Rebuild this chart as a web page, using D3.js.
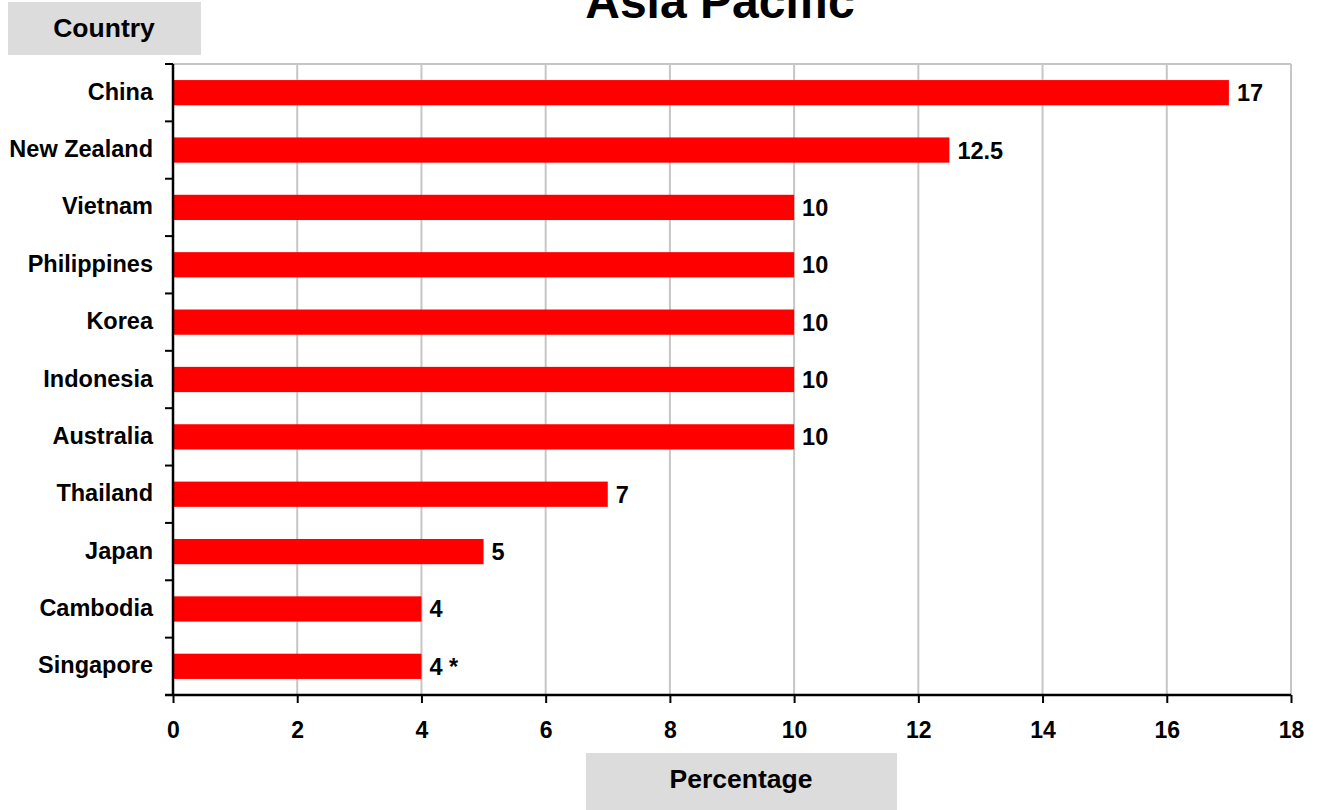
<!DOCTYPE html>
<html>
<head>
<meta charset="utf-8">
<script src="https://cdn.jsdelivr.net/npm/d3@7"></script>
<style>
  html, body { margin: 0; padding: 0; background: #fff; }
  svg { display: block; font-family: "Liberation Sans", Arial, sans-serif; }
</style>
</head>
<body>
<svg id="chart" width="1318" height="810"></svg>
<script>
// Country shares, top to bottom
const countries = ["China", "New Zealand", "Vietnam", "Philippines", "Korea", "Indonesia",
                   "Australia", "Thailand", "Japan", "Cambodia", "Singapore"];
const percentages = [17, 12.5, 10, 10, 10, 10, 10, 7, 5, 4, 4];
const valueLabels = ["17", "12.5", "10", "10", "10", "10", "10", "7", "5", "4", "4 *"];
const xTicks = [0, 2, 4, 6, 8, 10, 12, 14, 16, 18];

const title = "Asia Pacific";
const yTitle = "Country";
const xTitle = "Percentage";

const svg = d3.select("#chart");
const plot = { left: 173, right: 1291, top: 64, bottom: 695 };

const x = d3.scaleLinear().domain([0, 18]).range([plot.left, plot.right]);
const y = d3.scaleBand().domain(countries).range([plot.top, plot.bottom]).paddingInner(0.56).paddingOuter(0.28);
const yEdges = d3.scaleBand().domain(countries).range([plot.top, plot.bottom]);

// vertical grid lines and top border
svg.append("g").selectAll("line").data(xTicks.filter(d => d > 0)).join("line")
  .attr("x1", d => x(d)).attr("x2", d => x(d))
  .attr("y1", plot.top).attr("y2", plot.bottom)
  .attr("stroke", "#c6c6c6").attr("stroke-width", 2);
svg.append("line")
  .attr("x1", plot.left).attr("x2", plot.right)
  .attr("y1", plot.top).attr("y2", plot.top)
  .attr("stroke", "#c6c6c6").attr("stroke-width", 2);

// bars
svg.append("g").selectAll("rect").data(countries).join("rect")
  .attr("x", x(0))
  .attr("y", d => y(d))
  .attr("width", (d, i) => x(percentages[i]) - x(0))
  .attr("height", y.bandwidth())
  .attr("fill", "#ff0000");

// value labels
svg.append("g").selectAll("text").data(countries).join("text")
  .attr("x", (d, i) => x(percentages[i]) + 8)
  .attr("y", d => y(d) + y.bandwidth() / 2)
  .attr("dy", "0.36em")
  .attr("font-size", 23.5).attr("font-weight", "bold").attr("fill", "#000")
  .text((d, i) => valueLabels[i]);

// x axis
const xAxis = svg.append("g")
  .attr("transform", `translate(0,${plot.bottom})`)
  .call(d3.axisBottom(x).tickValues(xTicks).tickSize(8).tickPadding(19));
xAxis.select(".domain").attr("stroke", "#000").attr("stroke-width", 2.5)
  .attr("d", `M${plot.left - 8},0H${plot.right}`);
xAxis.selectAll(".tick line").attr("stroke", "#000").attr("stroke-width", 2);
xAxis.selectAll(".tick text").attr("font-size", 23).attr("font-weight", "bold")
  .attr("fill", "#000").attr("font-family", "Liberation Sans, Arial, sans-serif");

// y axis: line with ticks at category boundaries
const boundaries = countries.map(d => yEdges(d)).concat([plot.bottom]);
svg.append("line")
  .attr("x1", plot.left).attr("x2", plot.left)
  .attr("y1", plot.top).attr("y2", plot.bottom)
  .attr("stroke", "#000").attr("stroke-width", 2.5);
svg.append("g").selectAll("line").data(boundaries).join("line")
  .attr("x1", plot.left - 8).attr("x2", plot.left)
  .attr("y1", d => d).attr("y2", d => d)
  .attr("stroke", "#000").attr("stroke-width", 2);

// category labels
svg.append("g").selectAll("text").data(countries).join("text")
  .attr("x", 153)
  .attr("y", d => yEdges(d) + yEdges.bandwidth() / 2)
  .attr("dy", "0.3em")
  .attr("text-anchor", "end")
  .attr("font-size", 23.5).attr("font-weight", "bold").attr("fill", "#000")
  .text(d => d);

// title
svg.append("text")
  .attr("x", 720).attr("y", 18)
  .attr("text-anchor", "middle")
  .attr("font-size", 48).attr("font-weight", "bold")
  .text(title);

// axis title boxes
svg.append("rect").attr("x", 8).attr("y", 2).attr("width", 193).attr("height", 53).attr("fill", "#dcdcdc");
svg.append("text").attr("x", 104).attr("y", 37).attr("text-anchor", "middle")
  .attr("font-size", 26.5).attr("font-weight", "bold").text(yTitle);

svg.append("rect").attr("x", 586).attr("y", 753).attr("width", 311).attr("height", 57).attr("fill", "#dcdcdc");
svg.append("text").attr("x", 741).attr("y", 788).attr("text-anchor", "middle")
  .attr("font-size", 26.5).attr("font-weight", "bold").text(xTitle);
</script>
</body>
</html>
